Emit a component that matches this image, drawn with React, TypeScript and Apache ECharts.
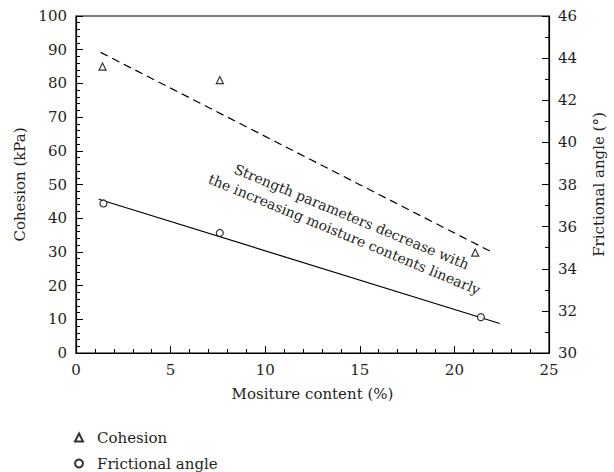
import React, { useEffect, useRef } from "react";
import * as echarts from "echarts";

const cohesionX = [1.4, 7.6, 21.1];
const cohesionY = [85, 81, 29.8];
const frictionX = [1.45, 7.6, 21.4];
const frictionY = [37.1, 35.7, 31.7];
const cohesionFitX = [1.3, 22.1];
const cohesionFitY = [89.2, 29.6];
const frictionFitX = [1.2, 22.4];
const frictionFitY = [37.3, 31.4];
const annotationLines = ["Strength parameters decrease with", "the increasing moisture contents linearly"];

const FONT = "DejaVu Serif";
const TXT = "#231f20";

export default function App() {
  const ref = useRef<HTMLDivElement>(null);
  useEffect(() => {
    if (!ref.current) return;
    const chart = echarts.init(ref.current, null, { renderer: "svg" });
    const axisCommon = {
      axisLine: { show: true, lineStyle: { color: "#000", width: 1.2 } },
      axisTick: { show: true, inside: true, length: 7, lineStyle: { color: "#000", width: 1 } },
      minorTick: { show: true, length: 4, lineStyle: { color: "#000", width: 1 } },
      splitLine: { show: false },
      minorSplitLine: { show: false },
      axisLabel: { color: TXT, fontFamily: FONT, fontSize: 15, margin: 9 },
      nameTextStyle: { color: TXT, fontFamily: FONT, fontSize: 15 },
      nameLocation: "middle" as const,
    };
    const symStyle = { color: "#fff", borderColor: "#000", borderWidth: 1.2 };
    chart.setOption({
      animation: false,
      backgroundColor: "#fff",
      grid: { left: 76, right: 57, top: 16, bottom: 119, show: true, borderColor: "#000", borderWidth: 1.2, backgroundColor: "transparent" },
      xAxis: {
        type: "value", min: 0, max: 25, interval: 5,
        ...axisCommon,
        minorTick: { ...axisCommon.minorTick, splitNumber: 5 },
        name: "Mositure content (%)", nameGap: 33,
      },
      yAxis: [
        {
          type: "value", min: 0, max: 100, interval: 10, position: "left",
          ...axisCommon,
          minorTick: { ...axisCommon.minorTick, splitNumber: 5 },
          name: "Cohesion (kPa)", nameGap: 46,
        },
        {
          type: "value", min: 30, max: 46, interval: 2, position: "right",
          ...axisCommon,
          minorTick: { ...axisCommon.minorTick, splitNumber: 2 },
          name: "Frictional angle (°)", nameGap: 42,
        },
      ],
      legend: {
        orient: "vertical", left: 74, top: 430, padding: 0, itemGap: 11,
        itemWidth: 8, itemHeight: 8,
        textStyle: { color: TXT, fontFamily: FONT, fontSize: 15, padding: [0, 0, 0, 9] },
        data: [
          { name: "Cohesion", icon: "triangle" },
          { name: "Frictional angle", icon: "circle" },
        ],
      },
      graphic: [
        {
          type: "text", x: 348, y: 225.5, rotation: (-22.5 * Math.PI) / 180,
          style: {
            text: annotationLines.join("\n"), fill: TXT, font: `14px "${FONT}"`,
            align: "center", verticalAlign: "middle", lineHeight: 19,
          },
        },
      ],
      series: [
        {
          name: "Cohesion", type: "scatter", yAxisIndex: 0, symbol: "triangle", symbolSize: 7,
          itemStyle: symStyle, data: cohesionX.map((x, i) => [x, cohesionY[i]]), z: 5,
        },
        {
          name: "Frictional angle", type: "scatter", yAxisIndex: 1, symbol: "circle", symbolSize: 7,
          itemStyle: symStyle, data: frictionX.map((x, i) => [x, frictionY[i]]), z: 5,
        },
        {
          name: "Cohesion fit", type: "line", yAxisIndex: 0, showSymbol: false, symbol: "none",
          lineStyle: { color: "#000", width: 1.2, type: [8, 5] },
          data: cohesionFitX.map((x, i) => [x, cohesionFitY[i]]),
        },
        {
          name: "Frictional fit", type: "line", yAxisIndex: 1, showSymbol: false, symbol: "none",
          lineStyle: { color: "#000", width: 1.2 },
          data: frictionFitX.map((x, i) => [x, frictionFitY[i]]),
        },
      ],
    });
    return () => chart.dispose();
  }, []);
  return <div ref={ref} style={{ position: "fixed", left: 0, top: 0, width: 614, height: 472 }} />;
}
